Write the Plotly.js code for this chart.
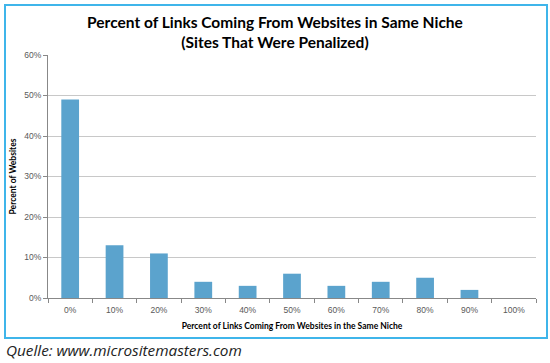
<!DOCTYPE html>
<html><head><meta charset="utf-8">
<script src="https://cdn.plot.ly/plotly-3.0.1.min.js"></script>
<style>
html,body{margin:0;padding:0;background:#fff;}
#wrap{position:relative;width:550px;height:363px;}
#chart{width:550px;height:363px;}
#frame{position:absolute;left:4px;top:4px;width:540px;height:331px;border:2px solid #3fb5ea;pointer-events:none;}
</style></head>
<body>
<div id="wrap"><div id="chart"></div><div id="frame"></div></div>
<script>
const categories = ["0%","10%","20%","30%","40%","50%","60%","70%","80%","90%","100%"];
const percentWebsites = [49, 13, 11, 4, 3, 6, 3, 4, 5, 2, 0];
const yTickVals = [0,10,20,30,40,50,60];
const yTickText = ["0%","10%","20%","30%","40%","50%","60%"];

const trace = {
  type: "bar",
  x: categories,
  y: percentWebsites,
  marker: {color: "#5ba3cd"},
  hoverinfo: "x+y"
};
const layout = {
  width: 550, height: 363,
  margin: {l: 48, r: 14, t: 55, b: 65},
  paper_bgcolor: "#fff", plot_bgcolor: "#fff",
  bargap: 0.6,
  showlegend: false,
  title: {
    text: "Percent of Links Coming From Websites in Same Niche<br>(Sites That Were Penalized)",
    font: {family: "Lato", size: 15.5, color: "#000", weight: "bold"},
    x: 0.5, xanchor: "center", y: 1 - 28/363, yanchor: "middle", automargin: false
  },
  xaxis: {
    type: "category",
    showline: true, linecolor: "#888", linewidth: 1,
    ticks: "outside", ticklen: 4, tickcolor: "#888", tickson: "boundaries",
    ticklabelstandoff: 4,
    tickfont: {family: "Liberation Sans", size: 8.5, color: "#595959"},
    title: {text: "Percent of Links Coming From Websites in the Same Niche",
      font: {family: "Lato", size: 8.5, color: "#000", weight: "bold"}, standoff: 8},
    showgrid: false, fixedrange: true
  },
  yaxis: {
    range: [0, 60],
    tickvals: yTickVals, ticktext: yTickText,
    showline: true, linecolor: "#888", linewidth: 1,
    ticks: "outside", ticklen: 4, tickcolor: "#888",
    tickfont: {family: "Liberation Sans", size: 8.5, color: "#595959"},
    showgrid: true, gridcolor: "#c8c8c8", gridwidth: 1,
    zeroline: false,
    title: {text: "Percent of Websites",
      font: {family: "Lato", size: 8.5, color: "#000", weight: "bold"}, standoff: 6},
    fixedrange: true
  },
  annotations: [{
    text: "Quelle: www.micrositemasters.com",
    xref: "paper", yref: "paper",
    x: -44/488, xanchor: "left",
    y: -52/243, yanchor: "middle",
    showarrow: false,
    font: {family: "Open Sans", size: 15.3, color: "#222", style: "italic"}
  }]
};
Plotly.newPlot("chart", [trace], layout, {displayModeBar: false, staticPlot: true});
</script>
</body></html>
